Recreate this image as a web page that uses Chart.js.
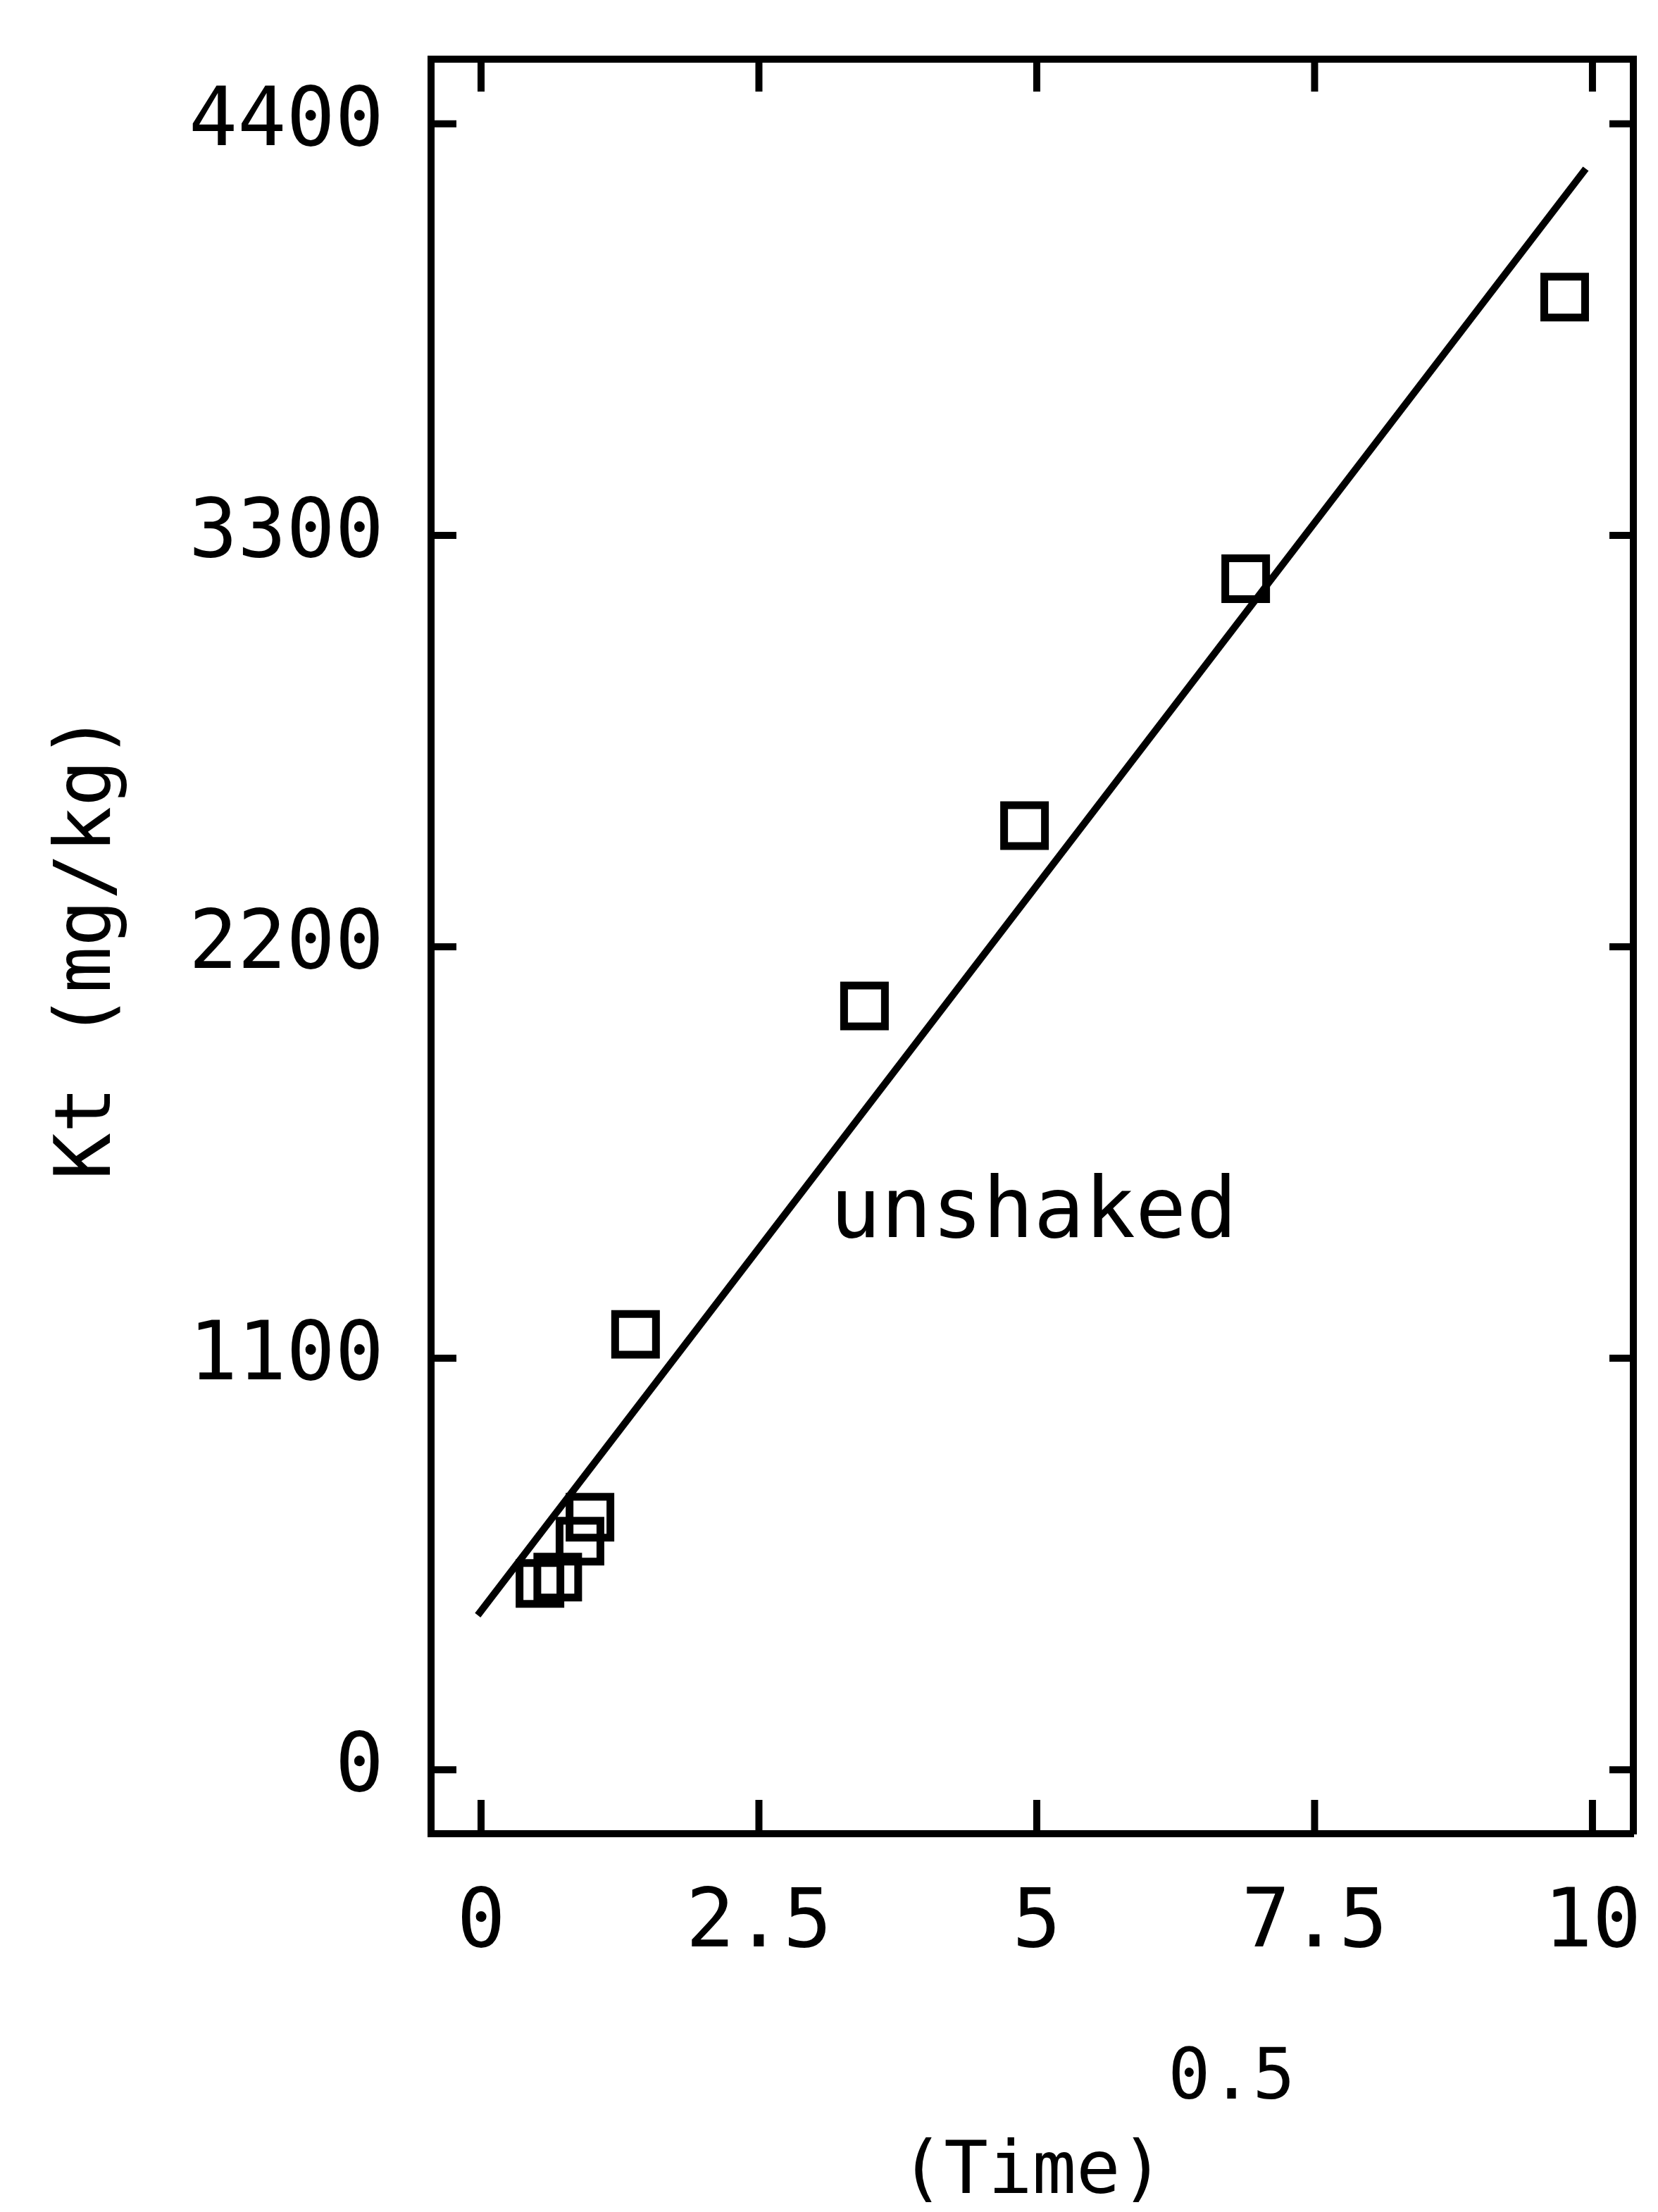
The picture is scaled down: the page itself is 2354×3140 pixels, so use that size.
<!DOCTYPE html>
<html lang="en">
<head>
    <meta charset="UTF-8">
    <title>Kt vs (Time)^0.5</title>
    <script src="https://cdn.jsdelivr.net/npm/chart.js"></script>
    <style>
        body {
            margin: 0;
            padding: 0;
            background: #fff;
        }

        canvas {
            display: block;
        }
    </style>
</head>
<body>
    <canvas id="grafica" width="2354" height="3140"></canvas>

    <script>
        // valores
        const raizTiempo = [0.53, 0.69, 0.89, 0.98, 1.39, 3.45, 4.89, 6.88, 9.75];
        const ktValores = [498, 515, 611, 675, 1164, 2042, 2524, 3184, 3937];
        const ajusteX = [-0.03, 9.94];
        const ajusteY = [413, 4280];
        const ticksX = [0, 2.5, 5, 7.5, 10];
        const ticksY = [0, 1100, 2200, 3300, 4400];

        const fuente = 'DejaVu Sans Mono';

        const puntos = raizTiempo.map((x, i) => ({ x, y: ktValores[i] }));
        const linea = ajusteX.map((x, i) => ({ x, y: ajusteY[i] }));

        // fija el tamaño del eje y quita el relleno que agregan las etiquetas
        function fijarEje(ancho, alto) {
            return s => {
                if (ancho !== null) s.width = ancho;
                if (alto !== null) s.height = alto;
                s.paddingTop = 0;
                s.paddingBottom = 0;
                s.paddingLeft = 0;
                s.paddingRight = 0;
            };
        }

        // marcas hacia adentro en los cuatro lados + textos sueltos
        const marcasInternas = {
            id: 'marcasInternas',
            afterDraw(chart) {
                const { ctx, chartArea: area, scales } = chart;
                ctx.save();
                ctx.strokeStyle = '#000';
                ctx.lineWidth = 10;
                ctx.lineCap = 'butt';
                ticksX.forEach(v => {
                    const px = scales.x.getPixelForValue(v);
                    ctx.beginPath();
                    ctx.moveTo(px, area.bottom);
                    ctx.lineTo(px, area.bottom - 48);
                    ctx.moveTo(px, area.top);
                    ctx.lineTo(px, area.top + 46);
                    ctx.stroke();
                });
                ticksY.forEach(v => {
                    const py = scales.y.getPixelForValue(v);
                    ctx.beginPath();
                    ctx.moveTo(area.left, py);
                    ctx.lineTo(area.left + 36, py);
                    ctx.moveTo(area.right, py);
                    ctx.lineTo(area.right - 34, py);
                    ctx.stroke();
                });

                ctx.fillStyle = '#000';
                ctx.font = `120px "${fuente}"`;
                ctx.textAlign = 'left';
                ctx.textBaseline = 'alphabetic';
                ctx.fillText('unshaked', scales.x.getPixelForValue(3.14), scales.y.getPixelForValue(1424));

                // exponente del titulo del eje x
                ctx.font = `100px "${fuente}"`;
                ctx.textAlign = 'center';
                ctx.textBaseline = 'middle';
                ctx.fillText('0.5', (area.left + area.right) / 2 + 283, 2953);
                ctx.restore();
            }
        };

        new Chart(document.getElementById('grafica'), {
            type: 'scatter',
            data: {
                datasets: [{
                    label: 'unshaked',
                    data: puntos,
                    pointStyle: 'rect',
                    pointRadius: 41,
                    pointBorderWidth: 11,
                    borderColor: '#000',
                    backgroundColor: 'rgba(0,0,0,0)',
                    showLine: false
                }, {
                    label: 'ajuste',
                    data: linea,
                    showLine: true,
                    pointRadius: 0,
                    borderColor: '#000',
                    borderWidth: 10,
                    fill: false
                }]
            },
            options: {
                responsive: false,
                animation: false,
                devicePixelRatio: 1,
                layout: {
                    autoPadding: false,
                    padding: { left: 0, right: 35, top: 84, bottom: 0 }
                },
                plugins: {
                    legend: { display: false },
                    tooltip: { enabled: false }
                },
                scales: {
                    x: {
                        type: 'linear',
                        position: 'bottom',
                        min: -0.45,
                        max: 10.368,
                        afterBuildTicks: s => { s.ticks = ticksX.map(value => ({ value })); },
                        afterFit: fijarEje(null, 537),
                        grid: { display: false, drawTicks: false },
                        border: { display: true, color: '#000', width: 10 },
                        ticks: {
                            color: '#000',
                            padding: 73,
                            maxRotation: 0,
                            font: { family: fuente, size: 115, lineHeight: 1 },
                            callback: v => String(v)
                        },
                        title: {
                            display: true,
                            text: '(Time)',
                            color: '#000',
                            font: { family: fuente, size: 104, lineHeight: 1 },
                            padding: { top: 0, bottom: 2 }
                        }
                    },
                    y: {
                        type: 'linear',
                        position: 'left',
                        min: -171,
                        max: 4573,
                        afterBuildTicks: s => { s.ticks = ticksY.map(value => ({ value })); },
                        afterFit: fijarEje(612, null),
                        grid: { display: false, drawTicks: false },
                        border: { display: true, color: '#000', width: 10 },
                        ticks: {
                            color: '#000',
                            padding: 67,
                            font: { family: fuente, size: 115, lineHeight: 1 },
                            callback: v => String(v)
                        },
                        title: {
                            display: true,
                            text: 'Kt (mg/kg)',
                            color: '#000',
                            font: { family: fuente, size: 110, lineHeight: 1 },
                            padding: { top: 72, bottom: 0 }
                        }
                    },
                    x2: {
                        type: 'linear',
                        position: 'top',
                        min: -0.45,
                        max: 10.368,
                        afterFit: fijarEje(null, 0),
                        grid: { display: false, drawTicks: false },
                        border: { display: true, color: '#000', width: 10 },
                        ticks: { display: false }
                    },
                    y2: {
                        type: 'linear',
                        position: 'right',
                        min: -171,
                        max: 4573,
                        afterFit: fijarEje(0, null),
                        grid: { display: false, drawTicks: false },
                        border: { display: true, color: '#000', width: 10 },
                        ticks: { display: false }
                    }
                }
            },
            plugins: [marcasInternas]
        });
    </script>
</body>
</html>
